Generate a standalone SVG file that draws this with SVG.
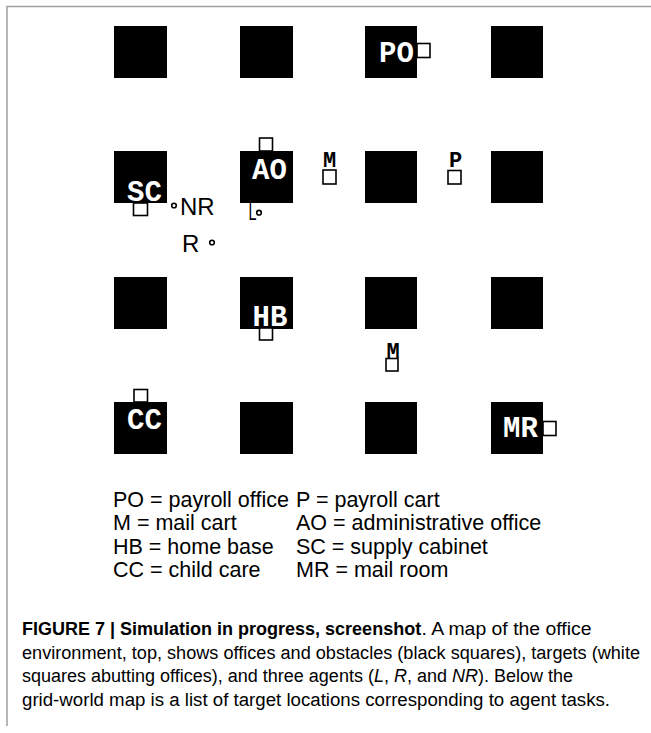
<svg xmlns="http://www.w3.org/2000/svg" width="651" height="733" viewBox="0 0 651 733">
<style>
.blk{fill:#000}
.tgt{fill:#fff;stroke:#000;stroke-width:1.6}
.lbw{font-family:"Liberation Mono",monospace;font-weight:bold;font-size:29px;fill:#fff;text-anchor:middle}
.lbk{font-family:"Liberation Mono",monospace;font-weight:bold;font-size:22px;fill:#000;text-anchor:middle}
.agt{font-family:"Liberation Sans",Arial,sans-serif;font-size:24px;fill:#000}
.dot{fill:#fff;stroke:#000;stroke-width:1.6}
.leg{font-family:"Liberation Sans",Arial,sans-serif;font-size:21.5px;fill:#000}
.cap{font-family:"Liberation Sans",Arial,sans-serif;font-size:18px;fill:#000}
.frame{stroke:#a0a0a0;stroke-width:1.5;fill:none}
</style>
<rect width="651" height="733" fill="#fff"/>
<path class="frame" d="M651,6.5 H7 V726"/>
<g id="grid">
<rect class="blk" x="114" y="26" width="53" height="52"/>
<rect class="blk" x="240" y="26" width="53" height="52"/>
<rect class="blk" x="365" y="26" width="52" height="52"/>
<rect class="blk" x="491" y="26" width="52" height="52"/>
<rect class="blk" x="114" y="151" width="53" height="52"/>
<rect class="blk" x="240" y="151" width="53" height="52"/>
<rect class="blk" x="365" y="151" width="52" height="52"/>
<rect class="blk" x="491" y="151" width="52" height="52"/>
<rect class="blk" x="114" y="277" width="53" height="52"/>
<rect class="blk" x="240" y="277" width="53" height="52"/>
<rect class="blk" x="365" y="277" width="52" height="52"/>
<rect class="blk" x="491" y="277" width="52" height="52"/>
<rect class="blk" x="114" y="402" width="53" height="52"/>
<rect class="blk" x="240" y="402" width="53" height="52"/>
<rect class="blk" x="365" y="402" width="52" height="52"/>
<rect class="blk" x="491" y="402" width="52" height="52"/>
</g>
<g id="PO"><text class="lbw" x="396.5" y="62">PO</text><rect class="tgt" x="417" y="43.5" width="13" height="14"/></g>
<g id="AO"><rect class="tgt" x="259.5" y="138" width="13" height="13"/><text class="lbw" x="269.5" y="178.5">AO</text></g>
<g id="SC"><text class="lbw" x="144.5" y="201">SC</text><rect class="tgt" x="133.5" y="203" width="14" height="12.5"/></g>
<g id="M1"><text class="lbk" x="329.5" y="167">M</text><rect class="tgt" x="323" y="170" width="13" height="14"/></g>
<g id="P"><text class="lbk" x="455.5" y="166.5">P</text><rect class="tgt" x="448" y="170.5" width="13" height="13.5"/></g>
<g id="HB"><text class="lbw" x="270" y="326">HB</text><rect class="tgt" x="259.5" y="328" width="13" height="12"/></g>
<g id="M2"><text class="lbk" x="393" y="358">M</text><rect class="tgt" x="386" y="358.5" width="12" height="12.5"/></g>
<g id="CC"><rect class="tgt" x="134" y="389.5" width="13.5" height="12.5"/><text class="lbw" x="144.5" y="428.5">CC</text></g>
<g id="MR"><text class="lbw" x="520.5" y="437">MR</text><rect class="tgt" x="543" y="421.5" width="13" height="14"/></g>
<g id="agentNR"><circle class="dot" cx="174" cy="205.5" r="2.3"/><text class="agt" x="180" y="215">NR</text></g>
<g id="agentR"><text class="agt" x="182" y="251.5">R</text><circle class="dot" cx="212" cy="242.5" r="2.3"/></g>
<g id="agentL"><text class="agt" x="248.5" y="220" font-size="21" textLength="8" lengthAdjust="spacingAndGlyphs">L</text><circle class="dot" cx="259" cy="212.7" r="2.3"/></g>
<g id="connectors"></g>
<g id="legend">
<text class="leg" x="113" y="507">PO = payroll office</text>
<text class="leg" x="296" y="507">P = payroll cart</text>
<text class="leg" x="113" y="530">M = mail cart</text>
<text class="leg" x="296" y="530">AO = administrative office</text>
<text class="leg" x="113" y="554">HB = home base</text>
<text class="leg" x="296" y="554">SC = supply cabinet</text>
<text class="leg" x="113" y="577">CC = child care</text>
<text class="leg" x="296" y="577">MR = mail room</text>
</g>
<g id="caption">
<text class="cap" x="22" y="635" font-weight="bold">FIGURE 7 | Simulation in progress, screenshot</text>
<text class="cap" x="421.5" y="635" textLength="170" lengthAdjust="spacingAndGlyphs">. A map of the office</text>
<text class="cap" x="22" y="658.5" textLength="618" lengthAdjust="spacingAndGlyphs">environment, top, shows offices and obstacles (black squares), targets (white</text>
<text class="cap" x="22" y="682">squares abutting offices), and three agents (<tspan font-style="italic">L</tspan>, <tspan font-style="italic">R</tspan>, and <tspan font-style="italic">NR</tspan>). Below the</text>
<text class="cap" x="22" y="705.5" textLength="588" lengthAdjust="spacingAndGlyphs">grid-world map is a list of target locations corresponding to agent tasks.</text>
</g>
</svg>
